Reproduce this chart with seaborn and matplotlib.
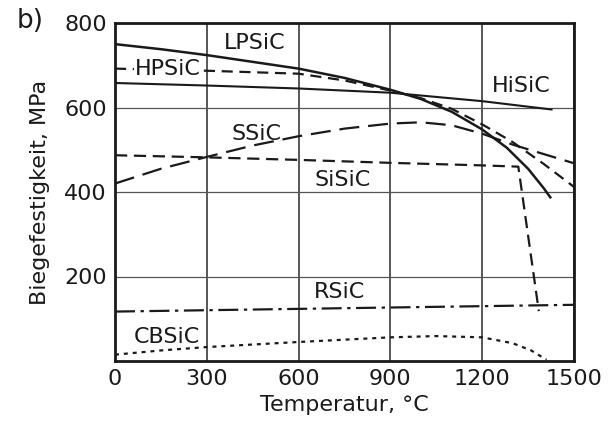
import matplotlib
matplotlib.use("Agg")
import matplotlib.pyplot as plt
import seaborn as sns
import pandas as pd

# ---- data ----
lpsic_x = [0, 150, 300, 450, 600, 750, 900, 1000, 1100, 1200, 1280, 1350, 1400, 1425]
lpsic_y = [750, 738, 724, 708, 692, 670, 642, 620, 590, 548, 505, 455, 410, 385]

hisic_x = [0, 300, 600, 900, 1200, 1430]
hisic_y = [658, 652, 645, 635, 615, 595]

hpsic_x = [0, 300, 600, 750, 900, 1000, 1100, 1200, 1300, 1400, 1500]
hpsic_y = [692, 687, 680, 664, 640, 622, 597, 560, 518, 467, 412]

ssic_x = [0, 150, 300, 450, 600, 750, 900, 1000, 1100, 1200, 1300, 1400, 1500]
ssic_y = [420, 455, 483, 510, 532, 550, 562, 565, 558, 538, 512, 490, 468]

sisic_x = [0, 300, 600, 900, 1200, 1318, 1385]
sisic_y = [487, 482, 476, 469, 463, 460, 118]

rsic_x = [0, 750, 1500]
rsic_y = [117, 125, 133]

cbsic_x = [0, 150, 300, 600, 900, 1050, 1200, 1300, 1360, 1410]
cbsic_y = [15, 25, 33, 45, 56, 59, 56, 42, 25, 3]

x_ticks = [0, 300, 600, 900, 1200, 1500]
y_ticks = [200, 400, 600, 800]

series = {
    "LPSiC": (lpsic_x, lpsic_y),
    "HiSiC": (hisic_x, hisic_y),
    "HPSiC": (hpsic_x, hpsic_y),
    "SSiC": (ssic_x, ssic_y),
    "SiSiC": (sisic_x, sisic_y),
    "RSiC": (rsic_x, rsic_y),
    "CBSiC": (cbsic_x, cbsic_y),
}

styles = {
    "LPSiC": dict(lw=1.8, dashes=None),
    "HiSiC": dict(lw=1.5, dashes=None),
    "HPSiC": dict(lw=1.6, dashes=(5, 3)),
    "SSiC": dict(lw=1.6, dashes=(9, 4)),
    "SiSiC": dict(lw=1.6, dashes=(5.5, 3)),
    "RSiC": dict(lw=1.6, dashes=(9, 2.5, 1.5, 2.5)),
    "CBSiC": dict(lw=1.6, dashes=(1.8, 2.2)),
}

labels = {
    "LPSiC": (457, 752),
    "HPSiC": (173, 691),
    "HiSiC": (1327, 651),
    "SSiC": (464, 537),
    "SiSiC": (745, 428),
    "RSiC": (735, 163),
    "CBSiC": (170, 57),
}

rows = []
for name, (xs, ys) in series.items():
    for i, (xv, yv) in enumerate(zip(xs, ys)):
        rows.append({"material": name, "T": xv, "sigma": yv, "order": i})
df = pd.DataFrame(rows)

sns.set_style("white")
plt.rcParams["font.family"] = ["DejaVu Sans"]

fig = plt.figure(figsize=(6.08, 4.30), dpi=100)
ax = fig.add_axes([115 / 608, 1 - 361 / 430, (574 - 115) / 608, (361 - 23) / 430])

ink = "#1a1a1a"
for name in series:
    sub = df[df["material"] == name]
    st = styles[name]
    sns.lineplot(data=sub, x="T", y="sigma", ax=ax, sort=False, estimator=None,
                 color=ink, linewidth=st["lw"], legend=False)
    line = ax.lines[-1]
    if st["dashes"] is not None:
        line.set_dashes(st["dashes"])
    line.set_solid_capstyle("butt")
    line.set_dash_capstyle("butt")

ax.set_xlim(0, 1500)
ax.set_ylim(0, 800)
ax.set_xticks(x_ticks)
ax.set_yticks(y_ticks)
ax.tick_params(axis="both", length=0, labelsize=16, colors=ink, pad=6)

ax.xaxis.grid(True, color="#2a2a2a", linewidth=1.1)
ax.yaxis.grid(True, color="#555555", linewidth=0.9)
ax.set_axisbelow(True)
for sp in ax.spines.values():
    sp.set_visible(True)
    sp.set_color(ink)
    sp.set_linewidth(2.0)

ax.set_xlabel("Temperatur, °C", fontsize=16, color=ink, labelpad=4)
ax.set_ylabel("Biegefestigkeit, MPa", fontsize=16, color=ink, labelpad=10)

for name, (lx, ly) in labels.items():
    kw = {}
    if name == "HPSiC":
        kw["bbox"] = dict(facecolor="white", edgecolor="none", pad=0.5)
    ax.text(lx, ly, name, fontsize=16, color=ink, ha="center", va="center", zorder=5, **kw)

fig.text(30 / 608, 1 - 21 / 430, "b)", fontsize=19, color=ink, ha="center", va="center")

fig.savefig("out.png", dpi=100)
